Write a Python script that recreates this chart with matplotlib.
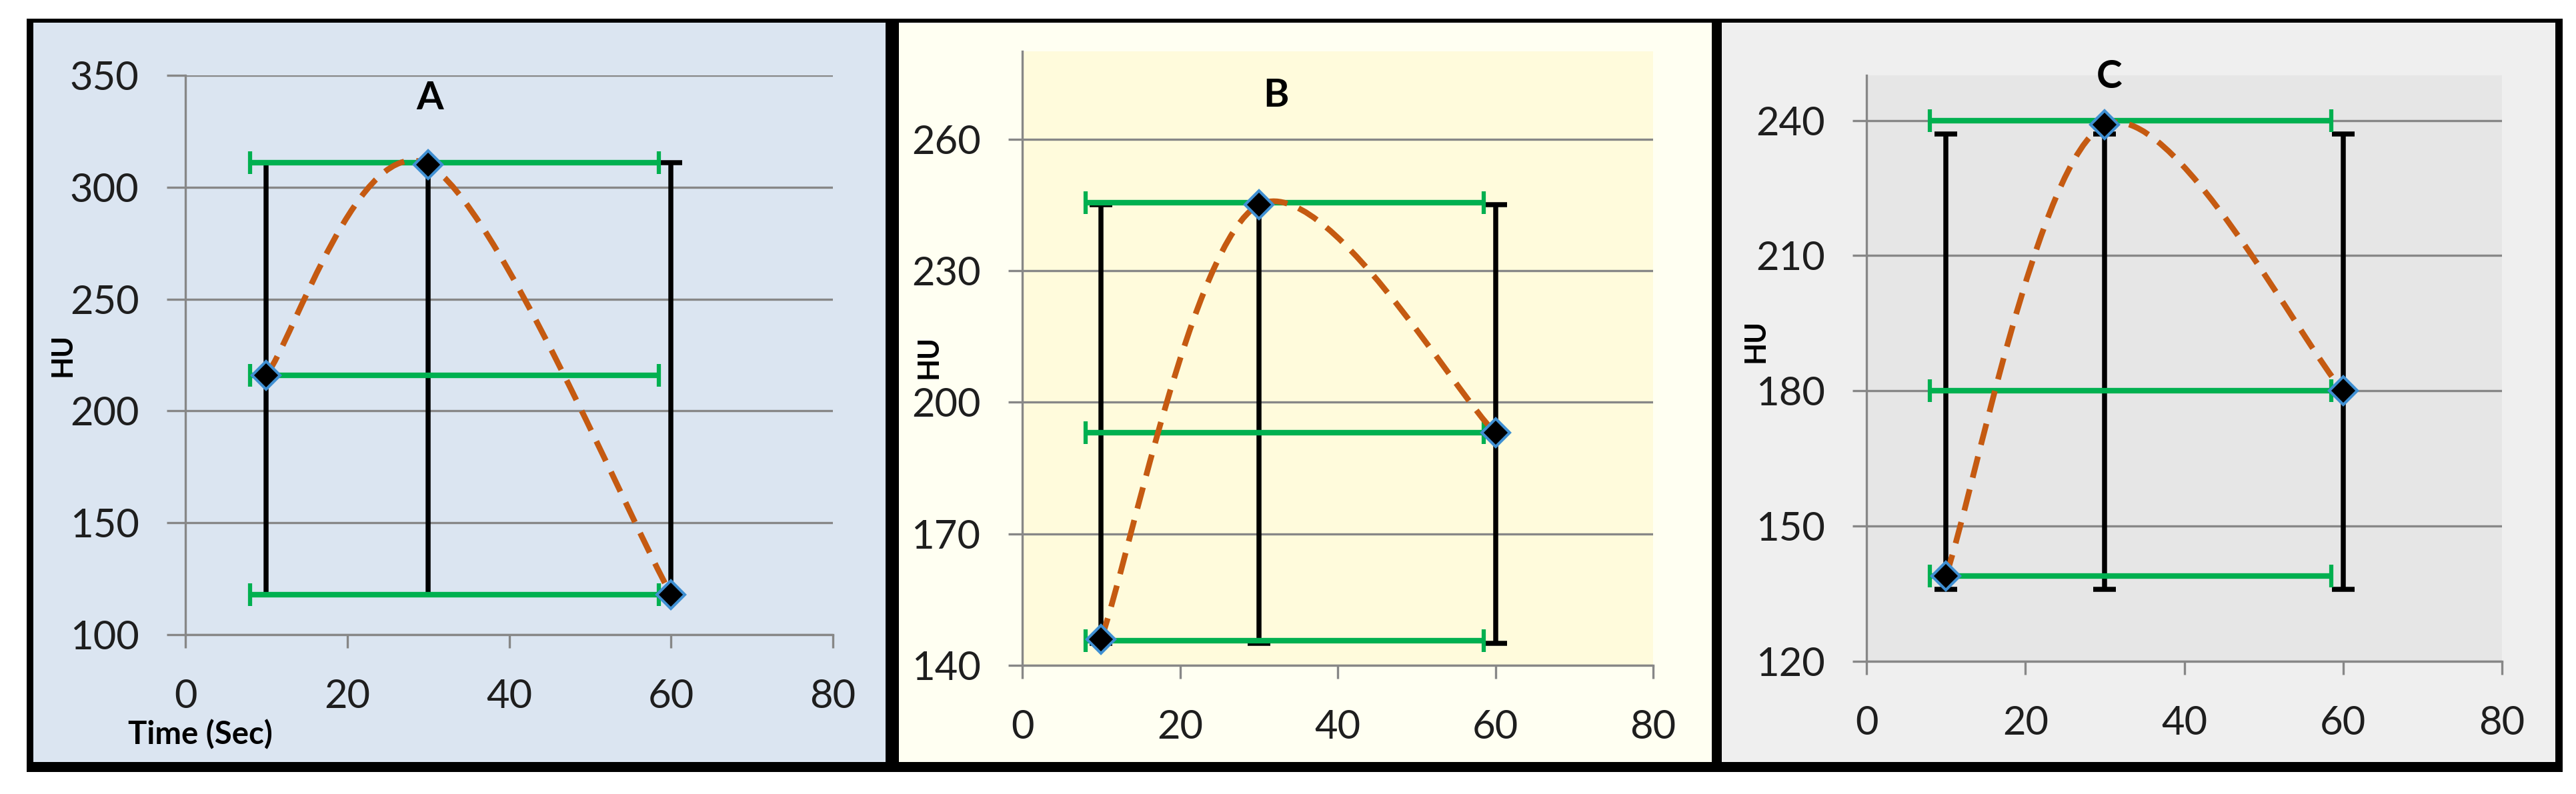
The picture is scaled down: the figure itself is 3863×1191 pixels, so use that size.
import matplotlib
matplotlib.use("Agg")
import matplotlib.pyplot as plt
from matplotlib.path import Path
from matplotlib.patches import PathPatch, Rectangle
import numpy as np

plt.rcParams['font.family'] = ['Lato', 'DejaVu Sans']

W, H, DPI = 3863, 1191, 100

# ---------------- data ----------------
time_s = [10, 30, 60]
x_ticks = [0, 20, 40, 60, 80]
panel_titles = ["A", "B", "C"]

hu_A = [216, 310, 118]
hu_B = [146, 245, 193]
hu_C = [139, 239, 180]

# black vertical bars (low / high)
black_low_A, black_high_A = [118, 118, 118], [311, 311, 311]
black_low_B, black_high_B = [145, 145, 145], [245, 245, 245]
black_low_C, black_high_C = [136, 136, 136], [237, 237, 237]

# green horizontal bars (y level, x start, x end)
green_y_A = [311, 216, 118]
green_y_B = [245.5, 193, 145.6]
green_y_C = [240, 180, 139]
green_x_start = [8, 8, 8]
green_x_end = [58.5, 58.5, 58.5]

y_ticks_A = [100, 150, 200, 250, 300, 350]
y_ticks_B = [140, 170, 200, 230, 260]
y_ticks_C = [120, 150, 180, 210, 240]
ylim_A = (100, 350)
ylim_B = (140, 280)
ylim_C = (120, 250)

# ---------------- style ----------------
GRID = '#878787'
BLACK = '#000000'
GREEN = '#00b050'
ORANGE = '#c55a11'
MEC = '#3f8fd2'
TXT = '#1e1e1e'

fig = plt.figure(figsize=(W / DPI, H / DPI), dpi=DPI)
fig.patch.set_facecolor('white')


def px2fig(x0, y0, x1, y1):
    return (x0 / W, 1 - y1 / H, (x1 - x0) / W, (y1 - y0) / H)


def rect(x0, y0, x1, y1, color, z):
    l, b, w, h = px2fig(x0, y0, x1, y1)
    fig.add_artist(Rectangle((l, b), w, h, transform=fig.transFigure,
                             facecolor=color, edgecolor='none', zorder=z))


# panel backgrounds
rect(50, 33, 1328, 1143, '#dbe5f1', -5)
rect(1348, 33, 2567, 1143, '#fffff2', -5)
rect(2582, 33, 3832, 1143, '#efefef', -5)
# frame
rect(40, 28, 3843, 34, BLACK, 5)
rect(40, 1143, 3843, 1158, BLACK, 5)
rect(40, 28, 50, 1158, BLACK, 5)
rect(3832, 28, 3843, 1158, BLACK, 5)
rect(1328, 28, 1348, 1158, BLACK, 5)
rect(2567, 28, 2582, 1158, BLACK, 5)

panels = [
    dict(box=(278, 113, 1249, 952), bg='#dbe5f1', hu=hu_A, lo=black_low_A, hi=black_high_A,
         gy=green_y_A, yt=y_ticks_A, yl=ylim_A, ticklen=20, title_xy=(645, 148),
         hu_xy=(93, 532)),
    dict(box=(1533, 77, 2479, 998), bg='#fffbdc', hu=hu_B, lo=black_low_B, hi=black_high_B,
         gy=green_y_B, yt=y_ticks_B, yl=ylim_B, ticklen=15, title_xy=(1913, 143),
         hu_xy=(1392, 535)),
    dict(box=(2799, 113, 3752, 992), bg='#e6e6e6', hu=hu_C, lo=black_low_C, hi=black_high_C,
         gy=green_y_C, yt=y_ticks_C, yl=ylim_C, ticklen=15, title_xy=(3163, 116),
         hu_xy=(2632, 511)),
]


def excel_smooth_path(xs, ys):
    pts = np.column_stack([xs, ys]).astype(float)
    n = len(pts)
    verts = [pts[0]]
    codes = [Path.MOVETO]
    for i in range(n - 1):
        p0 = pts[i - 1] if i > 0 else pts[i]
        p1, p2 = pts[i], pts[i + 1]
        p3 = pts[i + 2] if i + 2 < n else pts[i + 1]
        c1 = p1 + (p2 - p0) / 6.0
        c2 = p2 - (p3 - p1) / 6.0
        verts += [c1, c2, p2]
        codes += [Path.CURVE4] * 3
    return Path(verts, codes)


for name, p in zip(panel_titles, panels):
    ax = fig.add_axes(px2fig(*p['box']))
    ax.set_facecolor(p['bg'])
    ax.set_xlim(0, 80)
    ax.set_ylim(*p['yl'])
    ax.set_xticks(x_ticks)
    ax.set_yticks(p['yt'])
    for s in ['top', 'right']:
        ax.spines[s].set_visible(False)
    for s in ['left', 'bottom']:
        ax.spines[s].set_color(GRID)
        ax.spines[s].set_linewidth(2.4)
    ax.yaxis.grid(True, color=GRID, linewidth=2.4)
    ax.set_axisbelow(True)
    ax.tick_params(axis='y', direction='out', length=p['ticklen'], width=2.4, color=GRID,
                   labelsize=43, labelcolor=TXT, pad=30)
    ax.tick_params(axis='x', direction='out', length=14.4, width=2.4, color=GRID,
                   labelsize=43, labelcolor=TXT, pad=33)

    # black vertical bars
    mid_y = [(a + b) / 2 for a, b in zip(p['lo'], p['hi'])]
    half_y = [(b - a) / 2 for a, b in zip(p['lo'], p['hi'])]
    ax.errorbar(time_s, mid_y, yerr=half_y, fmt='none', ecolor=BLACK,
                elinewidth=5.4, capsize=12, capthick=5.4, zorder=3)
    # green horizontal bars
    mid_x = [(a + b) / 2 for a, b in zip(green_x_start, green_x_end)]
    half_x = [(b - a) / 2 for a, b in zip(green_x_start, green_x_end)]
    ax.errorbar(mid_x, p['gy'], xerr=half_x, fmt='none', ecolor=GREEN,
                elinewidth=6.0, capsize=12, capthick=4.5, zorder=4)
    # smoothed dashed line
    patch = PathPatch(excel_smooth_path(time_s, p['hu']), fill=False, edgecolor=ORANGE,
                      linewidth=6.2, linestyle=(0, (3.8, 2.1)), capstyle='butt',
                      transform=ax.transData, zorder=5)
    ax.add_patch(patch)
    # markers
    ax.plot(time_s, p['hu'], linestyle='none', marker='D', markersize=21,
            markerfacecolor=BLACK, markeredgecolor=MEC, markeredgewidth=3, zorder=6,
            clip_on=False)

    tx, ty = p['title_xy']
    fig.text(tx / W, 1 - ty / H, name, ha='center', va='center', fontsize=42,
             fontweight='bold', color=BLACK)
    hx, hy = p['hu_xy']
    fig.text(hx / W, 1 - hy / H, 'HU', ha='center', va='center', fontsize=31,
             fontweight='bold', rotation=90, color=BLACK)

fig.text(300 / W, 1 - 1102 / H, 'Time (Sec)', ha='center', va='center', fontsize=34,
         fontweight='bold', color=BLACK)

fig.savefig('out.png', dpi=DPI)
